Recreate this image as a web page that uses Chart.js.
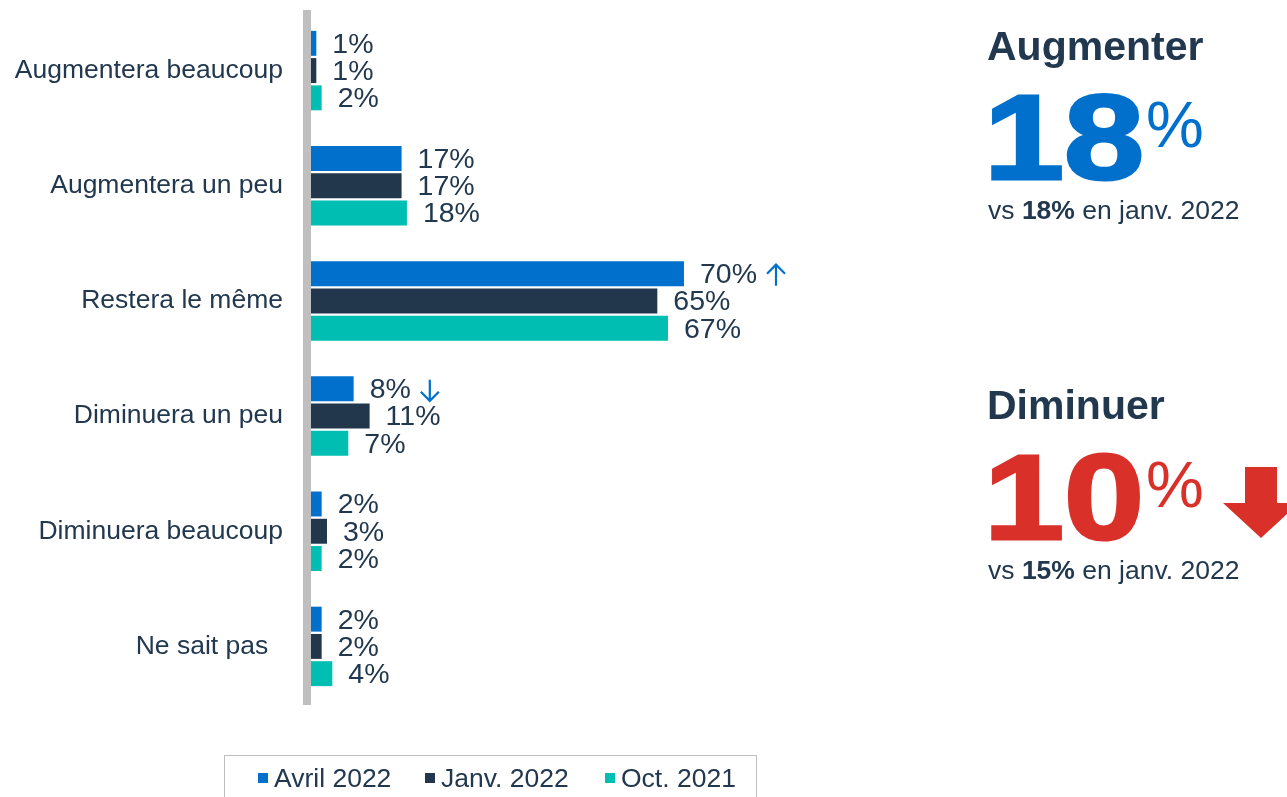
<!DOCTYPE html>
<html>
<head>
<meta charset="utf-8">
<script src="https://cdn.jsdelivr.net/npm/chart.js@4"></script>
<style>
  html, body { margin: 0; padding: 0; background: #fff; width: 1287px; height: 797px; overflow: hidden; }
  body { position: relative; font-family: 'Liberation Sans', Arial, sans-serif; color: #22384f; }
  #wrap { position: absolute; left: 0; top: 0; width: 993px; height: 797px; }
  .t { position: absolute; white-space: nowrap; line-height: 1; }
  .head { font-size: 41px; font-weight: bold; color: #22384f; }
  .big { font-size: 120px; font-weight: bold; -webkit-text-stroke: 3px currentColor; transform: scaleX(1.2); transform-origin: left top; }
  .pct { font-size: 65px; }
  .vs { font-size: 26.5px; color: #22384f; }
  .blue { color: #0070cc; }
  .red { color: #d9302a; }
  #legend { position: absolute; left: 224px; top: 755px; width: 533px; height: 60px; border: 1.5px solid #bfbfbf; box-sizing: border-box; font-size: 26.5px; color: #22384f; }
  #legend .item { position: absolute; top: 7px; line-height: 30px; white-space: nowrap; }
  #legend .sq { display: inline-block; width: 10px; height: 10px; margin-right: 6px; vertical-align: middle; position: relative; top: -2px; }
</style>
</head>
<body>
<div id="wrap"><canvas id="c"></canvas></div>
<div id="legend"></div>

<div class="t head" style="left:987px; top:26px;">Augmenter</div>
<div class="t big blue" style="left:984px; top:77px;">18</div>
<div class="t pct blue" style="left:1146px; top:92px;">%</div>
<div class="t vs" style="left:988px; top:197px;">vs <b>18%</b> en janv. 2022</div>

<div class="t head" style="left:987px; top:385px;">Diminuer</div>
<div class="t big red" style="left:984px; top:437px;">10</div>
<div class="t pct red" style="left:1146px; top:452px;">%</div>
<svg style="position:absolute; left:1223px; top:467px;" width="76" height="72" viewBox="0 0 76 72">
  <polygon points="22,0 54,0 54,36 76,36 38,71 0,36 22,36" fill="#d9302a"/>
</svg>
<div class="t vs" style="left:988px; top:557px;">vs <b>15%</b> en janv. 2022</div>

<script>
// ---- Data ----
const categories = ["Augmentera beaucoup", "Augmentera un peu", "Restera le même", "Diminuera un peu", "Diminuera beaucoup", "Ne sait pas  "];
const seriesNames = ["Avril 2022", "Janv. 2022", "Oct. 2021"];
const avril2022 = [1, 17, 70, 8, 2, 2];
const janv2022 = [1, 17, 65, 11, 3, 2];
const oct2021 = [2, 18, 67, 7, 2, 4];
const trendAvril = ["", "", "up", "down", "", ""];
const trendJanv = ["", "", "", "", "", ""];
const trendOct = ["", "", "", "", "", ""];

const colors = ["#0070cc", "#22374b", "#00bfb2"];
const textColor = "#22384f";
const FONT = "'Liberation Sans', Arial, sans-serif";
Chart.defaults.font.family = FONT;

const trends = [trendAvril, trendJanv, trendOct];

// HTML legend built from the series names / colours
const legendOffsets = [33, 200, 380];
const legendEl = document.getElementById('legend');
seriesNames.forEach((name, i) => {
  const it = document.createElement('div');
  it.className = 'item';
  it.style.left = legendOffsets[i] + 'px';
  const sq = document.createElement('span');
  sq.className = 'sq';
  sq.style.background = colors[i];
  it.appendChild(sq);
  it.appendChild(document.createTextNode(name));
  legendEl.appendChild(it);
});

const axisLinePlugin = {
  id: 'axisLine',
  beforeDatasetsDraw(chart) {
    const {ctx, chartArea} = chart;
    ctx.save();
    ctx.fillStyle = '#bfbfbf';
    ctx.fillRect(chartArea.left - 8, chartArea.top - 3, 8, chartArea.bottom - chartArea.top + 4);
    ctx.restore();
  }
};

const valueLabelPlugin = {
  id: 'valueLabels',
  afterDatasetsDraw(chart) {
    const {ctx} = chart;
    ctx.save();
    ctx.font = "28.5px " + FONT;
    ctx.textBaseline = 'middle';
    ctx.textAlign = 'left';
    chart.data.datasets.forEach((ds, i) => {
      const meta = chart.getDatasetMeta(i);
      meta.data.forEach((bar, j) => {
        const txt = ds.data[j] + '%';
        const x = bar.x + 16;
        const y = bar.y + 1.5;
        ctx.fillStyle = textColor;
        ctx.fillText(txt, x, y);
        const tr = trends[i][j];
        if (tr) {
          const w = ctx.measureText(txt).width;
          const cx = x + w + 19;
          const h = 21;
          const top = y - h / 2, bot = y + h / 2;
          ctx.strokeStyle = '#0070cc';
          ctx.lineWidth = 2.2;
          ctx.beginPath();
          ctx.moveTo(cx, top);
          ctx.lineTo(cx, bot);
          if (tr === 'up') {
            ctx.moveTo(cx - 9, top + 9);
            ctx.lineTo(cx, top);
            ctx.lineTo(cx + 9, top + 9);
          } else {
            ctx.moveTo(cx - 9, bot - 9);
            ctx.lineTo(cx, bot);
            ctx.lineTo(cx + 9, bot - 9);
          }
          ctx.stroke();
        }
      });
    });
    ctx.restore();
  }
};

new Chart(document.getElementById('c'), {
  type: 'bar',
  data: {
    labels: categories,
    datasets: [
      { label: seriesNames[0], data: avril2022, backgroundColor: colors[0] },
      { label: seriesNames[1], data: janv2022, backgroundColor: colors[1] },
      { label: seriesNames[2], data: oct2021, backgroundColor: colors[2] }
    ]
  },
  options: {
    indexAxis: 'y',
    responsive: true,
    maintainAspectRatio: false,
    animation: false,
    datasets: { bar: { categoryPercentage: 0.71, barPercentage: 0.915, borderWidth: 0 } },
    layout: { padding: { top: 13, left: 0, right: 0, bottom: 0 } },
    scales: {
      x: {
        min: 0, max: 128,
        grid: { display: false, drawTicks: false },
        border: { display: false },
        ticks: { display: false },
        afterFit(scale) { scale.height = 93; scale.paddingLeft = 0; scale.paddingRight = 0; }
      },
      y: {
        grid: { display: false, drawTicks: false },
        border: { display: false },
        ticks: { color: textColor, font: { size: 26.5, family: FONT }, padding: 28 },
        afterFit(scale) { scale.width = 311; scale.paddingTop = 0; scale.paddingBottom = 0; }
      }
    },
    plugins: {
      legend: { display: false },
      tooltip: { enabled: false }
    }
  },
  plugins: [axisLinePlugin, valueLabelPlugin]
});
</script>
</body>
</html>
